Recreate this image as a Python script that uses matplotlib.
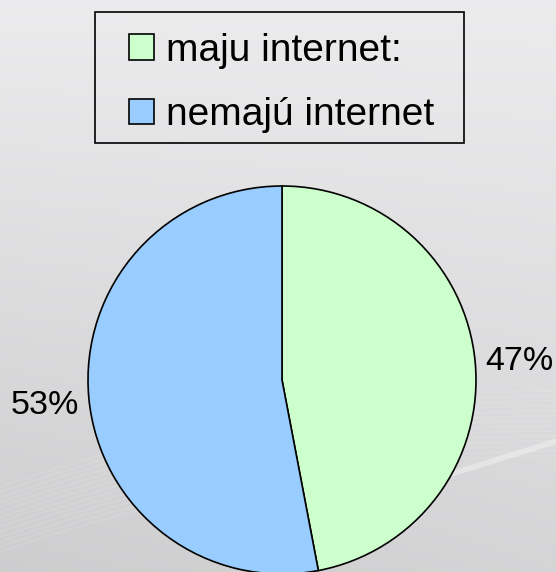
import numpy as np
import matplotlib
matplotlib.use("Agg")
import matplotlib.pyplot as plt
from matplotlib.patches import Patch, Rectangle

plt.rcParams['font.family'] = ['Liberation Sans', 'DejaVu Sans']

# Data
categories = ["maju internet:", "nemajú internet"]
shares = [47, 53]
colors = ["#ccffcc", "#99ccff"]
pct_labels = ["47%", "53%"]

W, H = 556, 572
fig = plt.figure(figsize=(W / 100, H / 100), dpi=100)

# background gradient with faint swooshes (pixel coords, y down)
bg = fig.add_axes([0, 0, 1, 1])
yy, xx = np.mgrid[0:1:300j, 0:1:300j]
shade = 0.925 - 0.09 * yy - 0.03 * (1 - xx) * yy
bg.imshow(np.dstack([shade, shade, shade + 0.006]).clip(0, 1),
          extent=[0, W, H, 0], aspect="auto")
t = np.linspace(0, 1, 200)
for k in range(14):
    off = k * 5
    bg.plot(t * W, H - 20 - off - 160 * (1 - (1 - t) ** 2) * 0.6,
            color="white", alpha=0.10, lw=1.2)
bg.plot(400 + t * 160, 490 - 50 * t, color="white", alpha=0.35, lw=4)
bg.add_patch(Rectangle((95, 12), 464 - 95, 143 - 12, facecolor="none",
                       edgecolor="black", linewidth=1.2))
bg.set_xlim(0, W)
bg.set_ylim(H, 0)
bg.axis("off")

# pie: radius 194 px centred at (282, 380)
r, cx, cy = 194, 282, 380
ax = fig.add_axes([(cx - r) / W, (H - cy - r) / H, 2 * r / W, 2 * r / H])
wedges, _ = ax.pie(shares, colors=colors, startangle=90, counterclock=False,
                   radius=1, wedgeprops=dict(edgecolor="black", linewidth=1.2))
ax.set_xlim(-1, 1)
ax.set_ylim(-1, 1)
ax.set_aspect("equal")
ax.axis("off")
for w in wedges:
    w.set_clip_on(False)

for w, lab in zip(wedges, pct_labels):
    ang = np.radians((w.theta1 + w.theta2) / 2)
    ax.text(1.23 * np.cos(ang), 1.23 * np.sin(ang), lab, ha="center",
            va="center_baseline", fontsize=24.5, clip_on=False)

handles = [Patch(facecolor=c, edgecolor="black", linewidth=1.2) for c in colors]
leg = fig.legend(handles, categories, loc="center left",
                 bbox_to_anchor=(129 / W, 1 - 83 / H), fontsize=28,
                 handlelength=0.64, handleheight=0.64, handletextpad=0.31,
                 borderpad=0, labelspacing=0.73, borderaxespad=0,
                 frameon=False)

fig.savefig("out.png", dpi=100)
